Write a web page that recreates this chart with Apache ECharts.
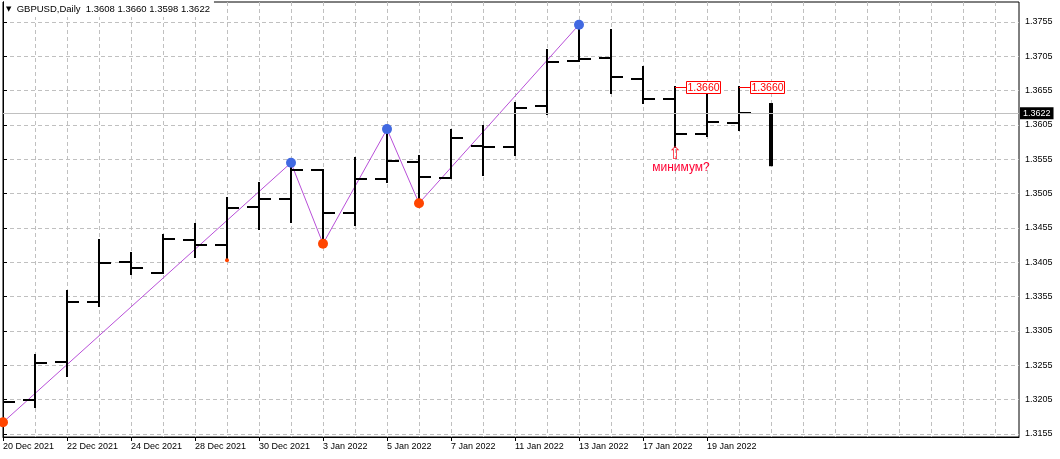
<!DOCTYPE html>
<html>
<head>
<meta charset="utf-8">
<title>GBPUSD Daily</title>
<script src="https://cdn.jsdelivr.net/npm/echarts@6/dist/echarts.min.js"></script>
<style>
  html, body { margin: 0; padding: 0; background: #fff; }
  #chart { width: 1060px; height: 459px; }
</style>
</head>
<body>
<div id="chart"></div>
<script>
// daily bars
const dates = ["20 Dec 2021", "21 Dec 2021", "22 Dec 2021", "23 Dec 2021", "24 Dec 2021", "27 Dec 2021",
  "28 Dec 2021", "29 Dec 2021", "30 Dec 2021", "31 Dec 2021", "3 Jan 2022", "4 Jan 2022", "5 Jan 2022",
  "6 Jan 2022", "7 Jan 2022", "10 Jan 2022", "11 Jan 2022", "12 Jan 2022", "13 Jan 2022", "14 Jan 2022",
  "17 Jan 2022", "18 Jan 2022", "19 Jan 2022", "20 Jan 2022", "21 Jan 2022"]
const open = [1.3236, 1.3205, 1.3260, 1.3347, 1.3406, 1.3390, 1.3437, 1.3430, 1.3486, 1.3497, 1.3540, 1.3477,
  1.3526, 1.3551, 1.3528, 1.3575, 1.3573, 1.3633, 1.3698, 1.3703, 1.3672, 1.3643, 1.3592, 1.3608]
const high = [1.3244, 1.3270, 1.3363, 1.3438, 1.3419, 1.3445, 1.3461, 1.3499, 1.3521, 1.3550, 1.3540, 1.3557,
  1.3599, 1.3560, 1.3598, 1.3604, 1.3637, 1.3714, 1.3751, 1.3743, 1.3689, 1.3660, 1.3649, 1.3660]
const low = [1.3172, 1.3194, 1.3240, 1.3341, 1.3388, 1.3390, 1.3413, 1.3408, 1.3454, 1.3464, 1.3432, 1.3459,
  1.3522, 1.3491, 1.3528, 1.3532, 1.3561, 1.3621, 1.3698, 1.3652, 1.3637, 1.3573, 1.3589, 1.3598]
const close = [1.3202, 1.3258, 1.3347, 1.3404, 1.3397, 1.3439, 1.3430, 1.3484, 1.3497, 1.3540, 1.3477, 1.3526,
  1.3553, 1.3529, 1.3586, 1.3573, 1.3630, 1.3697, 1.3701, 1.3675, 1.3643, 1.3592, 1.3609, 1.3622]
// thick bar on 21 Jan: [index, top, bottom]
const tailBar = [24, 1.3637, 1.3545]

// zigzag turning points
const zzIdx = [0, 9, 10, 12, 13, 18]
const zzKind = ["L", "H", "L", "H", "L", "H"]
const smallDot = [7] // small red dot at a low

// annotated bars
const labelBars = [21, 23]
const minBar = 21

const yTicks = [1.3155, 1.3205, 1.3255, 1.3305, 1.3355, 1.3405, 1.3455, 1.3505, 1.3555, 1.3605, 1.3655, 1.3705, 1.3755]
const xLabelIdx = [0, 2, 4, 6, 8, 10, 12, 14, 16, 18, 20, 22]
const gridIdx = []
for (let i = 0; i <= 31; i++) gridIdx.push(i)

const last = open.length - 1
const font = "Liberation Sans"

const bars = open.map((o, i) => [i, o, high[i], low[i], close[i]])
const zz = zzIdx.map((i, k) => [i, zzKind[k] == "H" ? high[i] : low[i]])

function renderBar(params, api) {
  const i = api.value(0)
  const pO = api.coord([i, api.value(1)])
  const pH = api.coord([i, api.value(2)])
  const pL = api.coord([i, api.value(3)])
  const pC = api.coord([i, api.value(4)])
  const x = Math.round(pO[0])
  const st = { stroke: "#000", lineWidth: 2 }
  return {
    type: "group",
    children: [
      { type: "line", shape: { x1: x, y1: Math.round(pH[1]) - 1, x2: x, y2: Math.round(pL[1]) + 1 }, style: st },
      { type: "line", shape: { x1: x - 12, y1: Math.round(pO[1]), x2: x, y2: Math.round(pO[1]) }, style: st },
      { type: "line", shape: { x1: x, y1: Math.round(pC[1]), x2: x + 12, y2: Math.round(pC[1]) }, style: st },
    ],
  }
}

function renderTail(params, api) {
  const a = api.coord([api.value(0), api.value(1)])
  const b = api.coord([api.value(0), api.value(2)])
  return { type: "line", shape: { x1: Math.round(a[0]), y1: a[1], x2: Math.round(a[0]), y2: b[1] }, style: { stroke: "#000", lineWidth: 4 } }
}

function renderPriceLabel(params, api) {
  const p = api.coord([api.value(0), api.value(1)])
  const x = Math.round(p[0])
  const y = Math.round(p[1]) + 0.5
  return {
    type: "group",
    children: [
      { type: "line", shape: { x1: x, y1: y, x2: x + 11, y2: y }, style: { stroke: "#ff0000", lineWidth: 1 } },
      { type: "rect", shape: { x: x + 11.5, y: y - 6, width: 34, height: 12 }, style: { fill: "#fff", stroke: "#ff0000", lineWidth: 1 } },
      {
        type: "text", x: x + 28.5, y: y + 0.5,
        style: { text: api.value(1).toFixed(4), fill: "#ff0000", align: "center", verticalAlign: "middle", fontSize: 10.5, fontFamily: font },
      },
    ],
  }
}

function renderMinNote(params, api) {
  const p = api.coord([api.value(0), api.value(1)])
  return {
    type: "group",
    children: [
      { type: "text", x: p[0], y: p[1] + 8, style: { text: "⇧", fill: "#ff2a3a", align: "center", verticalAlign: "middle", fontSize: 17, fontFamily: "DejaVu Sans" } },
      { type: "text", x: p[0] + 6, y: p[1] + 21, style: { text: "минимум?", fill: "#ff0033", align: "center", verticalAlign: "middle", fontSize: 12, fontFamily: font } },
    ],
  }
}

let myChart = echarts.init(document.getElementById("chart"))
myChart.setOption({
  animation: false,
  title: {
    text: "{t|▼}  GBPUSD,Daily  " + [open[last], high[last], low[last], close[last]].map((v) => v.toFixed(4)).join(" "),
    left: 4,
    top: 0,
    padding: [4, 4, 3, 2],
    backgroundColor: "#fff",
    textStyle: {
      fontFamily: font,
      fontSize: 9.5,
      fontWeight: "normal",
      color: "#000",
      rich: { t: { fontSize: 7, fontFamily: "DejaVu Sans", color: "#000" } },
    },
  },
  grid: {
    left: 3,
    right: 41,
    top: 2,
    bottom: 22,
    show: true,
    borderColor: "#000",
    borderWidth: 1,
    outerBoundsMode: "none",
  },
  xAxis: [
    {
      type: "value",
      min: 0,
      max: 31.75,
      axisLine: { show: true, lineStyle: { color: "#000" } },
      axisTick: { show: false, customValues: gridIdx },
      axisLabel: { show: false },
      splitLine: { show: true, lineStyle: { color: "#c0c0c0", type: [4, 3] } },
    },
    {
      type: "value",
      min: 0,
      max: 31.75,
      position: "bottom",
      axisLine: { show: false },
      axisTick: { show: true, customValues: xLabelIdx, length: 4, lineStyle: { color: "#000" } },
      axisLabel: {
        customValues: xLabelIdx,
        formatter: (v) => dates[v],
        align: "left",
        margin: 5,
        fontFamily: font,
        fontSize: 9,
        color: "#000",
        showMinLabel: true,
        hideOverlap: false,
      },
      splitLine: { show: false },
    },
  ],
  yAxis: {
    type: "value",
    position: "right",
    min: 1.315063,
    max: 1.378413,
    axisLine: { show: true, lineStyle: { color: "#000" } },
    axisTick: { show: true, customValues: yTicks, length: 4, lineStyle: { color: "#000" } },
    axisLabel: {
      customValues: yTicks,
      formatter: (v) => v.toFixed(4),
      margin: 6,
      fontFamily: font,
      fontSize: 9,
      color: "#000",
    },
    splitLine: { show: true, lineStyle: { color: "#c0c0c0", type: [4, 3] } },
  },
  series: [
    {
      name: "zigzag",
      type: "line",
      data: zz,
      symbol: "none",
      z: 1,
      lineStyle: { color: "#b84fd8", width: 1 },
      markLine: {
        silent: true,
        precision: 4,
        symbol: ["none", "none"],
        lineStyle: { color: "#c0c0c0", type: "solid", width: 1 },
        label: {
          show: true,
          position: "end",
          distance: 1,
          formatter: () => close[last].toFixed(4),
          color: "#fff",
          backgroundColor: "#000",
          padding: [2, 3, 1, 3],
          fontFamily: font,
          fontSize: 9,
        },
        data: [{ yAxis: close[last] }],
      },
    },
    {
      name: "bars",
      type: "custom",
      renderItem: renderBar,
      data: bars,
      encode: { x: 0, y: [1, 2, 3, 4] },
      clip: true,
      z: 3,
    },
    {
      name: "tail",
      type: "custom",
      renderItem: renderTail,
      data: [tailBar],
      encode: { x: 0, y: [1, 2] },
      z: 3,
    },
    {
      name: "highs",
      type: "scatter",
      data: zz.filter((d, k) => zzKind[k] == "H"),
      symbolSize: 10,
      itemStyle: { color: "#4169e1", opacity: 1 },
      z: 5,
    },
    {
      name: "lows",
      type: "scatter",
      data: zz.filter((d, k) => zzKind[k] == "L"),
      symbolSize: 10,
      itemStyle: { color: "#ff4500", opacity: 1 },
      z: 5,
    },
    {
      name: "smallLow",
      type: "scatter",
      data: smallDot.map((i) => [i, low[i]]),
      symbolSize: 4,
      itemStyle: { color: "#ff4500", opacity: 1 },
      z: 5,
    },
    {
      name: "priceLabels",
      type: "custom",
      renderItem: renderPriceLabel,
      data: labelBars.map((i) => [i, high[i]]),
      z: 6,
    },
    {
      name: "minNote",
      type: "custom",
      renderItem: renderMinNote,
      data: [[minBar, low[minBar]]],
      z: 6,
    },
  ],
})

window.addEventListener("resize", () => {
  myChart.resize()
})
</script>
</body>
</html>
